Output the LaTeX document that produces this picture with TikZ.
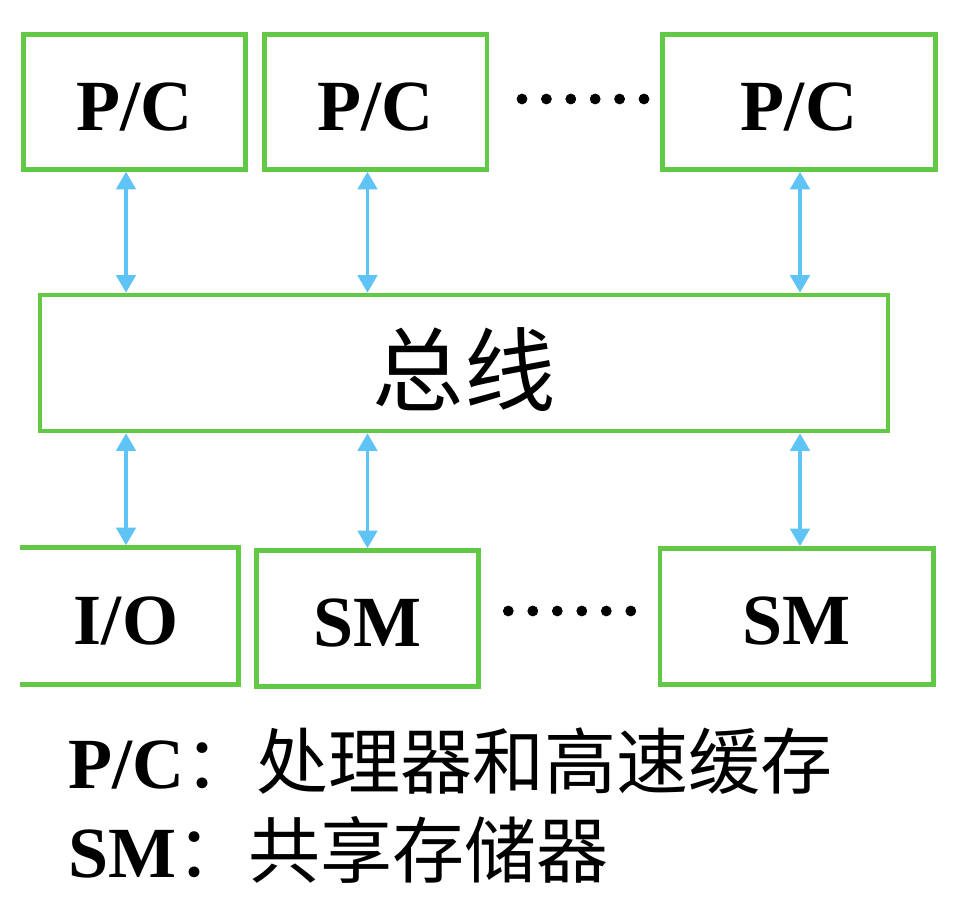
\documentclass[tikz,border=0pt]{standalone}
\usepackage{fontspec}
\setmainfont{Liberation Serif}
\newfontfamily\cjk{Noto Sans CJK SC}
\usetikzlibrary{arrows.meta}

\definecolor{boxgreen}{RGB}{98,200,70}
\definecolor{linkblue}{RGB}{95,195,245}

\tikzset{
	unit/.style = {draw = boxgreen, line width = 2.6pt, inner sep = 0pt,
		text height = 34pt, text depth = 2pt,
		font = \fontsize{41}{41}\selectfont\bfseries},
	link/.style = {draw = linkblue, line width = 2pt,
		{Triangle[length = 10pt, width = 11pt]}-{Triangle[length = 10pt, width = 11pt]}},
}

\begin{document}
\begin{tikzpicture}[x = 0.02cm, y = -0.02cm]
	\useasboundingbox (0,0) rectangle (968,922);
	% processors with cache
	\node [unit, minimum width = 4.44cm, minimum height = 2.7cm] (pc1) at (134.5,102) {P/C};
	\node [unit, minimum width = 4.45cm, minimum height = 2.7cm] (pc2) at (375.75,102) {P/C};
	\node [unit, minimum width = 5.46cm, minimum height = 2.7cm] (pcn) at (799,102) {P/C};
	\foreach \i in {0,...,5}
		\draw [fill = black] (522+24.4*\i,99) circle (0.1cm);
	% bus
	\node [unit, minimum width = 16.96cm, minimum height = 2.72cm,
		text height = 50pt, text depth = 2.4pt,
		font = \fontsize{52}{52}\selectfont\cjk] (bus) at (464,363) {总线};
	% io and shared memory
	\begin{scope}
		\clip (20,500) rectangle (300,720);
		\node [unit, minimum width = 4.5cm, minimum height = 2.74cm] (io) at (126,616) {I/O};
	\end{scope}
	\node [unit, minimum width = 4.44cm, minimum height = 2.72cm] (sm1) at (367.5,618.5) {SM};
	\node [unit, minimum width = 5.47cm, minimum height = 2.72cm] (smn) at (796.75,616.5) {SM};
	\foreach \i in {0,...,5}
		\draw [fill = black] (508.3+24.5*\i,611) circle (0.1cm);
	% links to the bus
	\draw [link] (pc1.south -| io.north) -- (bus.north -| io.north);
	\draw [link] (pc2.south -| sm1.north) -- (bus.north -| sm1.north);
	\draw [link] (pcn.south -| 800,0) -- (bus.north -| 800,0);
	\draw [link] (bus.south -| io.north) -- (io.north);
	\draw [link] (bus.south -| sm1.north) -- (sm1.north);
	\draw [link] (bus.south -| 800,0) -- (smn.north -| 800,0);
	% legend
	\node [anchor = base west, font = \fontsize{41}{41}\selectfont] (keypc) at (62,788)
		{\textbf{P/C}\cjk：处理器和高速缓存};
	\node [anchor = base west, font = \fontsize{41}{41}\selectfont] (keysm) at (62,877)
		{\textbf{SM}\cjk：共享存储器};
\end{tikzpicture}
\end{document}
